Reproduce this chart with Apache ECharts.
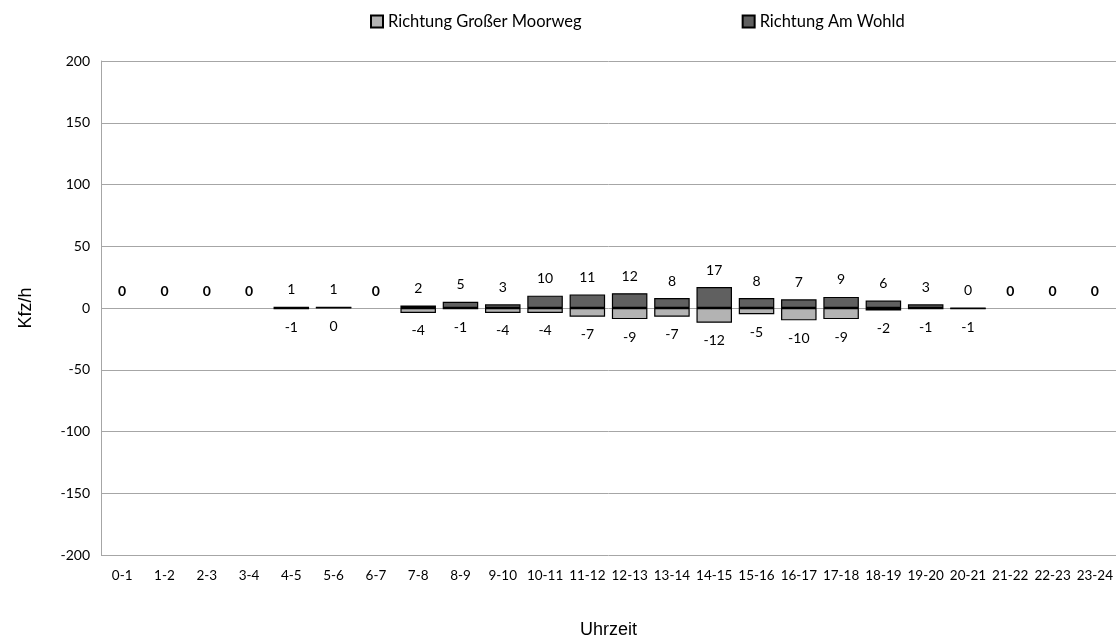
<!DOCTYPE html>
<html>
<head>
<meta charset="utf-8">
<script src="https://cdn.jsdelivr.net/npm/echarts@6/dist/echarts.min.js"></script>
<style>
html, body { margin: 0; padding: 0; background: #fff; }
#chart { width: 1117px; height: 642px; }
</style>
</head>
<body>
<div id="chart"></div>
<script>
var stunden = ['0-1','1-2','2-3','3-4','4-5','5-6','6-7','7-8','8-9','9-10','10-11','11-12',
    '12-13','13-14','14-15','15-16','16-17','17-18','18-19','19-20','20-21','21-22','22-23','23-24'];
// Richtung Am Wohld (nach oben)
var amWohld = [0,0,0,0,1,1,0,2,5,3,10,11,12,8,17,8,7,9,6,3,0,0,0,0];
// Richtung Großer Moorweg (nach unten), null = keine Messung
var grosserMoorweg = [null,null,null,null,-1,0,null,-4,-1,-4,-4,-7,-9,-7,-12,-5,-10,-9,-2,-1,-1,null,null,null];

var schrift = 'Lato, "Open Sans", sans-serif';

// Stunden ohne Werte: fette 0 ohne Balken
var wohldDaten = amWohld.map(function (v, i) {
    if (grosserMoorweg[i] === null) {
        return { value: v, itemStyle: { borderWidth: 0 }, label: { fontWeight: 'bold', color: '#000' } };
    }
    return v;
});

var myChart = echarts.init(document.getElementById('chart'));
var option = {
    animation: false,
    textStyle: { fontFamily: schrift },
    legend: {
        left: 365,
        top: 8,
        icon: 'rect',
        itemWidth: 12,
        itemHeight: 12,
        itemGap: 160,
        textStyle: { fontSize: 16.5, color: '#000', fontFamily: schrift },
        data: ['Richtung Großer Moorweg', 'Richtung Am Wohld']
    },
    grid: { left: 101, right: 1, top: 61, bottom: 87, outerBoundsMode: 'none' },
    xAxis: {
        type: 'category',
        data: stunden,
        name: 'Uhrzeit',
        nameLocation: 'middle',
        nameGap: 66,
        nameTextStyle: { fontSize: 18, color: '#000', fontFamily: '"Liberation Sans", Arial, sans-serif' },
        axisLine: { show: false },
        axisTick: { show: false },
        axisLabel: { interval: 0, margin: 14, fontSize: 13.5, color: '#000' }
    },
    yAxis: {
        type: 'value',
        min: -200,
        max: 200,
        interval: 50,
        name: 'Kfz/h',
        nameLocation: 'middle',
        nameGap: 66,
        nameRotate: 90,
        nameTextStyle: { fontSize: 18, color: '#000', fontFamily: '"Liberation Sans", Arial, sans-serif' },
        axisLine: { show: true, lineStyle: { color: '#a6a6a6' } },
        axisTick: { show: false },
        axisLabel: { margin: 11, fontSize: 14, color: '#000' },
        splitLine: { lineStyle: { color: '#a6a6a6' } }
    },
    series: [
        {
            name: 'Richtung Großer Moorweg',
            type: 'bar',
            barWidth: '84%',
            barGap: '-100%',
            itemStyle: { color: '#b3b3b3', borderColor: '#000', borderWidth: 1.2 },
            label: { show: true, position: 'bottom', distance: 11, fontSize: 14, color: '#000' },
            data: grosserMoorweg
        },
        {
            name: 'Richtung Am Wohld',
            type: 'bar',
            barWidth: '84%',
            barGap: '-100%',
            itemStyle: { color: '#606060', borderColor: '#000', borderWidth: 1.2 },
            label: { show: true, position: 'top', distance: 10, fontSize: 14, color: '#000' },
            data: wohldDaten
        }
    ]
};
myChart.setOption(option);
</script>
</body>
</html>
